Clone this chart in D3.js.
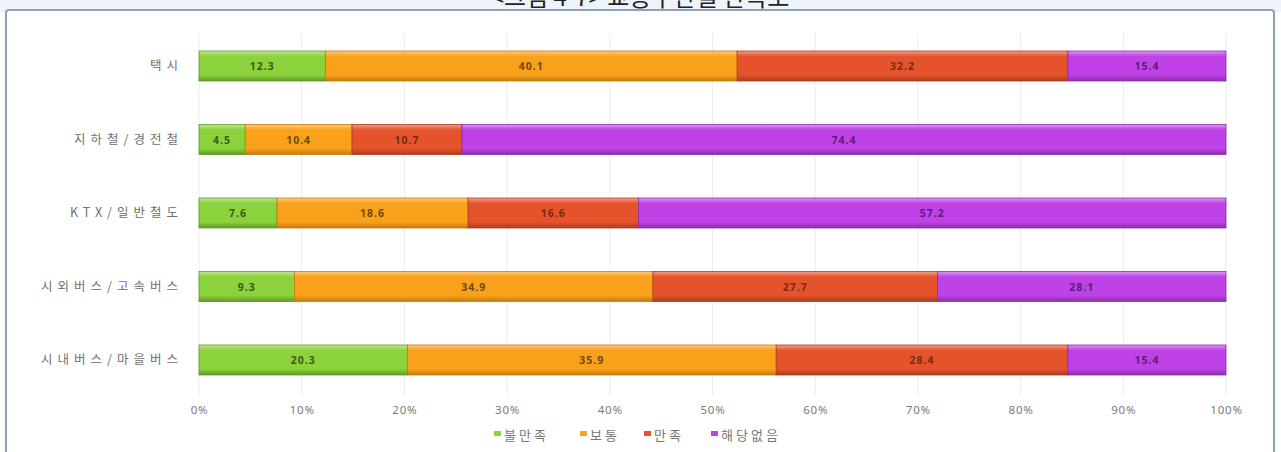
<!DOCTYPE html>
<html><head><meta charset="utf-8">
<script src="https://cdn.jsdelivr.net/npm/d3@7"></script>
<style>html,body{margin:0;padding:0;background:#fff;overflow:hidden}svg{display:block}</style>
</head><body>
<svg id="c" width="1281" height="452"></svg>
<script>
const title = "<그림 4-7> 교통수단별 만족도";
const categories = ["택시", "지하철/경전철", "KTX/일반철도", "시외버스/고속버스", "시내버스/마을버스"];
const seriesNames = ["불만족", "보통", "만족", "해당없음"];
const 불만족 = [12.3, 4.5, 7.6, 9.3, 20.3];
const 보통 = [40.1, 10.4, 18.6, 34.9, 35.9];
const 만족 = [32.2, 10.7, 16.6, 27.7, 28.4];
const 해당없음 = [15.4, 74.4, 57.2, 28.1, 15.4];
const tickValues = [0, 10, 20, 30, 40, 50, 60, 70, 80, 90, 100];
const colors = ["#8cd23c", "#f9a11b", "#e5532c", "#bf42e6"];
const darkColors = ["#5f9a26", "#c77a0c", "#b03a1c", "#8a2eaa"];

const seriesValues = [불만족, 보통, 만족, 해당없음];
const rows = categories.map((c, i) => {
  const o = {cat: c};
  seriesNames.forEach((s, j) => o[s] = seriesValues[j][i]);
  return o;
});
const stacked = d3.stack().keys(seriesNames)(rows);

const svg = d3.select("#c");
const defs = svg.append("defs");
colors.forEach((col, i) => {
  const g = defs.append("linearGradient").attr("id", "g" + i).attr("x1", 0).attr("x2", 0).attr("y1", 0).attr("y2", 1);
  g.append("stop").attr("offset", "0%").attr("stop-color", d3.interpolateRgb(col, "#ffffff")(0.45));
  g.append("stop").attr("offset", "18%").attr("stop-color", col);
  g.append("stop").attr("offset", "80%").attr("stop-color", col);
  g.append("stop").attr("offset", "100%").attr("stop-color", darkColors[i]);
});

// background strip above frame
svg.append("rect").attr("x", 0).attr("y", 0).attr("width", 1281).attr("height", 12).attr("fill", "#eef3f9");
svg.append("text").attr("x", 640).attr("y", 6).attr("text-anchor", "middle")
  .attr("font-family", "Noto Sans CJK KR").attr("font-size", 24).attr("fill", "#222").text(title);
// frame
svg.append("rect").attr("x", 6).attr("y", 10).attr("width", 1268).attr("height", 460).attr("rx", 3)
  .attr("fill", "#fff").attr("stroke", "#8fa2bd").attr("stroke-width", 2);

const x = d3.scaleLinear().domain([0, 100]).range([199, 1226]);
const y = d3.scaleBand().domain(categories).range([29.25, 396.75]).paddingInner(0.592).paddingOuter(0.296);

// gridlines
svg.append("g").selectAll("line").data(tickValues).join("line")
  .attr("x1", d => x(d)).attr("x2", d => x(d)).attr("y1", 33).attr("y2", 396)
  .attr("stroke", "#ececec").attr("stroke-width", 1);

// x axis
const xAxis = d3.axisBottom(x).tickValues(tickValues).tickFormat(d => d + "%").tickSize(0).tickPadding(0);
const ax = svg.append("g").attr("transform", "translate(0,406)").call(xAxis);
ax.select(".domain").remove();
ax.selectAll("text").attr("font-family", "Noto Sans").attr("font-size", 11.5).attr("letter-spacing", 0.8).attr("fill", "#7a7a7a");

// y axis
const yAxis = d3.axisLeft(y).tickSize(0).tickPadding(0);
const ay = svg.append("g").attr("transform", "translate(183,0)").call(yAxis);
ay.select(".domain").remove();
ay.selectAll("text").attr("font-family", "Noto Sans CJK KR").attr("font-size", 12.5)
  .attr("letter-spacing", 5).attr("fill", "#707070");

// bars
const layers = svg.append("g").selectAll("g").data(stacked).join("g");
layers.selectAll("rect").data((d, i) => d.map(v => ({v, i}))).join("rect")
  .attr("x", d => x(d.v[0])).attr("width", d => x(d.v[1]) - x(d.v[0]))
  .attr("y", d => y(d.v.data.cat)).attr("height", y.bandwidth())
  .attr("fill", d => `url(#g${d.i})`).attr("stroke", d => darkColors[d.i]).attr("stroke-width", 0.8);

layers.selectAll("text").data((d, i) => d.map(v => ({v, i}))).join("text")
  .attr("x", d => (x(d.v[0]) + x(d.v[1])) / 2).attr("y", d => y(d.v.data.cat) + y.bandwidth() / 2 + 4)
  .attr("text-anchor", "middle").attr("font-family", "Noto Sans").attr("font-weight", "bold")
  .attr("font-size", 10.5).attr("letter-spacing", 1).attr("fill", d => ["#3d5a1a", "#6e4a0c", "#7a2a16", "#5a1e78"][d.i])
  .text(d => (d.v[1] - d.v[0]).toFixed(1));

// legend
const legendX = [494, 580, 644, 711];
const lg = svg.append("g").selectAll("g").data(seriesNames).join("g")
  .attr("transform", (d, i) => `translate(${legendX[i]},435)`);
lg.append("rect").attr("x", 0).attr("y", -4).attr("width", 7).attr("height", 5).attr("fill", (d, i) => colors[i]);
lg.append("text").attr("x", 10).attr("y", 4.5).attr("font-family", "Noto Sans CJK KR").attr("font-size", 13)
  .attr("letter-spacing", 3).attr("fill", "#777").text(d => d);
</script>
</body></html>
